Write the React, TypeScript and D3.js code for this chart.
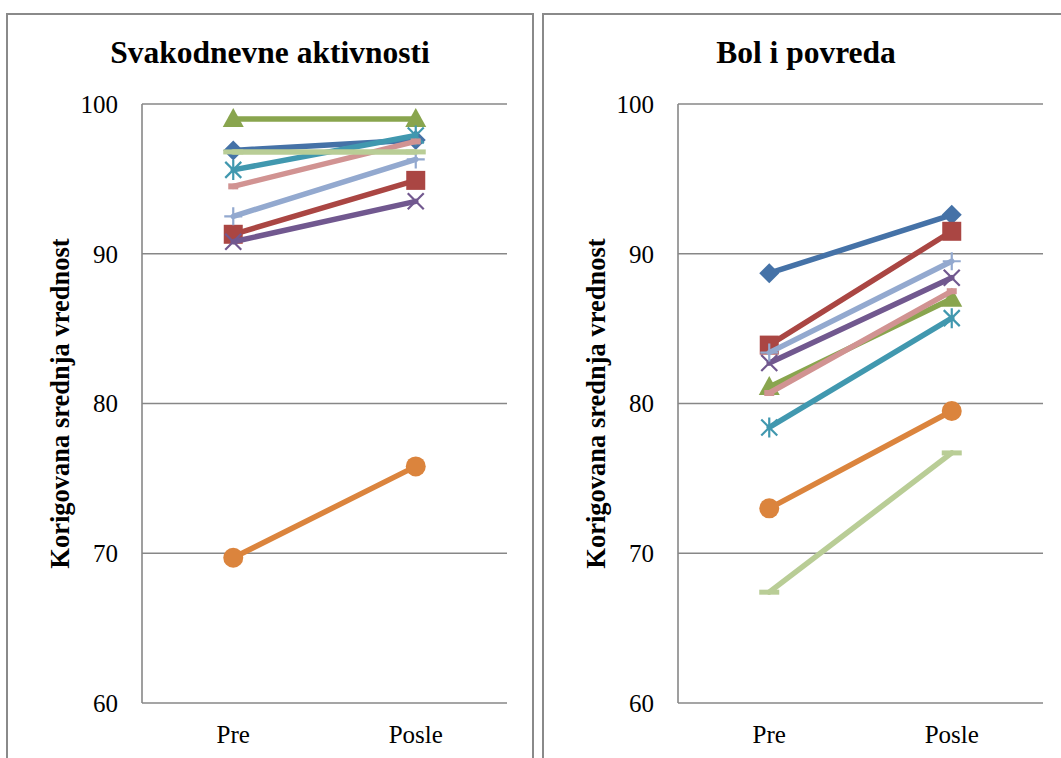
import React from "react";
import * as d3 from "d3";

const categories = ["Pre", "Posle"];
const yTicks = [60, 70, 80, 90, 100];

const seriesColors = ["#4572A7", "#AA4643", "#89A54E", "#71588F", "#4198AF", "#DB843D", "#93A9CF", "#D19392", "#B9CD96"];
const seriesMarkers = ["diamond", "square", "triangle", "x", "star", "circle", "plus", "shortdash", "longdash"];

const svakodnevneValues = [
  [96.9, 97.6],
  [91.3, 94.9],
  [99.0, 99.0],
  [90.8, 93.5],
  [95.6, 97.9],
  [69.7, 75.8],
  [92.5, 96.3],
  [94.5, 97.5],
  [96.8, 96.8],
];

const bolValues = [
  [88.7, 92.6],
  [83.9, 91.5],
  [81.1, 87.0],
  [82.7, 88.4],
  [78.4, 85.7],
  [73.0, 79.5],
  [83.4, 89.5],
  [80.7, 87.5],
  [67.4, 76.7],
];

const panelTitles = ["Svakodnevne aktivnosti", "Bol i povreda"];
const yAxisTitle = "Korigovana srednja vrednost";

const FONT = "'Liberation Serif', 'Times New Roman', serif";

function Marker({ type, x, y, color }: { type: string; x: number; y: number; color: string }) {
  switch (type) {
    case "diamond":
      return <path d={`M${x},${y - 10}L${x + 10},${y}L${x},${y + 10}L${x - 10},${y}Z`} fill={color} />;
    case "square":
      return <rect x={x - 9.5} y={y - 9.5} width={19} height={19} fill={color} />;
    case "triangle":
      return <path d={`M${x},${y - 11}L${x + 10.5},${y + 8}L${x - 10.5},${y + 8}Z`} fill={color} />;
    case "circle":
      return <circle cx={x} cy={y} r={10} fill={color} />;
    case "x":
      return (
        <path d={`M${x - 8},${y - 8}L${x + 8},${y + 8}M${x - 8},${y + 8}L${x + 8},${y - 8}`} stroke={color} strokeWidth={2.2} />
      );
    case "star":
      return (
        <path
          d={`M${x - 8},${y - 8}L${x + 8},${y + 8}M${x - 8},${y + 8}L${x + 8},${y - 8}M${x},${y - 10}L${x},${y + 10}`}
          stroke={color}
          strokeWidth={2.2}
        />
      );
    case "plus":
      return <path d={`M${x - 9},${y}L${x + 9},${y}M${x},${y - 9}L${x},${y + 9}`} stroke={color} strokeWidth={2.2} />;
    case "shortdash":
      return <rect x={x - 5} y={y - 3} width={10} height={6} fill={color} />;
    case "longdash":
      return <rect x={x - 10} y={y - 2.5} width={20} height={5} fill={color} />;
    default:
      return null;
  }
}

function Panel({ offsetX, title, values }: { offsetX: number; title: string; values: number[][] }) {
  const plotLeft = offsetX + 135;
  const plotRight = offsetX + 500;
  const y = d3.scaleLinear().domain([60, 100]).range([703, 104]);
  const x = d3.scaleBand().domain(categories).range([plotLeft, plotRight]);
  const cx = (c: string) => (x(c) as number) + x.bandwidth() / 2;
  const line = d3
    .line<number>()
    .x((_, i) => cx(categories[i]))
    .y((v) => y(v));
  return (
    <g>
      <rect x={offsetX} y={14} width={526} height={800} fill="#fff" stroke="#8a8a8a" strokeWidth={2} />
      <text x={offsetX + 263} y={63} textAnchor="middle" fontFamily={FONT} fontWeight="bold" fontSize={31.5} fill="#000">
        {title}
      </text>
      {yTicks.map((t) => (
        <line key={t} x1={plotLeft} x2={plotRight} y1={y(t)} y2={y(t)} stroke="#878787" strokeWidth={1.6} />
      ))}
      <line x1={plotLeft} x2={plotLeft} y1={y(100)} y2={y(60)} stroke="#878787" strokeWidth={1.6} />
      {yTicks.map((t) => (
        <text key={t} x={plotLeft - 24} y={y(t)} dy="0.35em" textAnchor="end" fontFamily={FONT} fontSize={25} fill="#000">
          {t}
        </text>
      ))}
      {categories.map((c) => (
        <text key={c} x={cx(c)} y={743} textAnchor="middle" fontFamily={FONT} fontSize={25} fill="#000">
          {c}
        </text>
      ))}
      <text
        transform={`translate(${offsetX + 53},${403.5}) rotate(-90)`}
        textAnchor="middle"
        dy="0.33em"
        fontFamily={FONT}
        fontWeight="bold"
        fontSize={26.5}
        fill="#000"
      >
        {yAxisTitle}
      </text>
      {values.map((vals, si) => (
        <g key={si}>
          <path d={line(vals) || ""} fill="none" stroke={seriesColors[si]} strokeWidth={5.5} strokeLinecap="round" />
          {vals.map((v, i) => (
            <Marker key={i} type={seriesMarkers[si]} x={cx(categories[i])} y={y(v)} color={seriesColors[si]} />
          ))}
        </g>
      ))}
    </g>
  );
}

export default function App() {
  return (
    <svg width={1061} height={758} style={{ position: "absolute", left: 0, top: 0, background: "#fff" }}>
      <rect width={1061} height={758} fill="#fff" />
      <Panel offsetX={7} title={panelTitles[0]} values={svakodnevneValues} />
      <Panel offsetX={543} title={panelTitles[1]} values={bolValues} />
    </svg>
  );
}
